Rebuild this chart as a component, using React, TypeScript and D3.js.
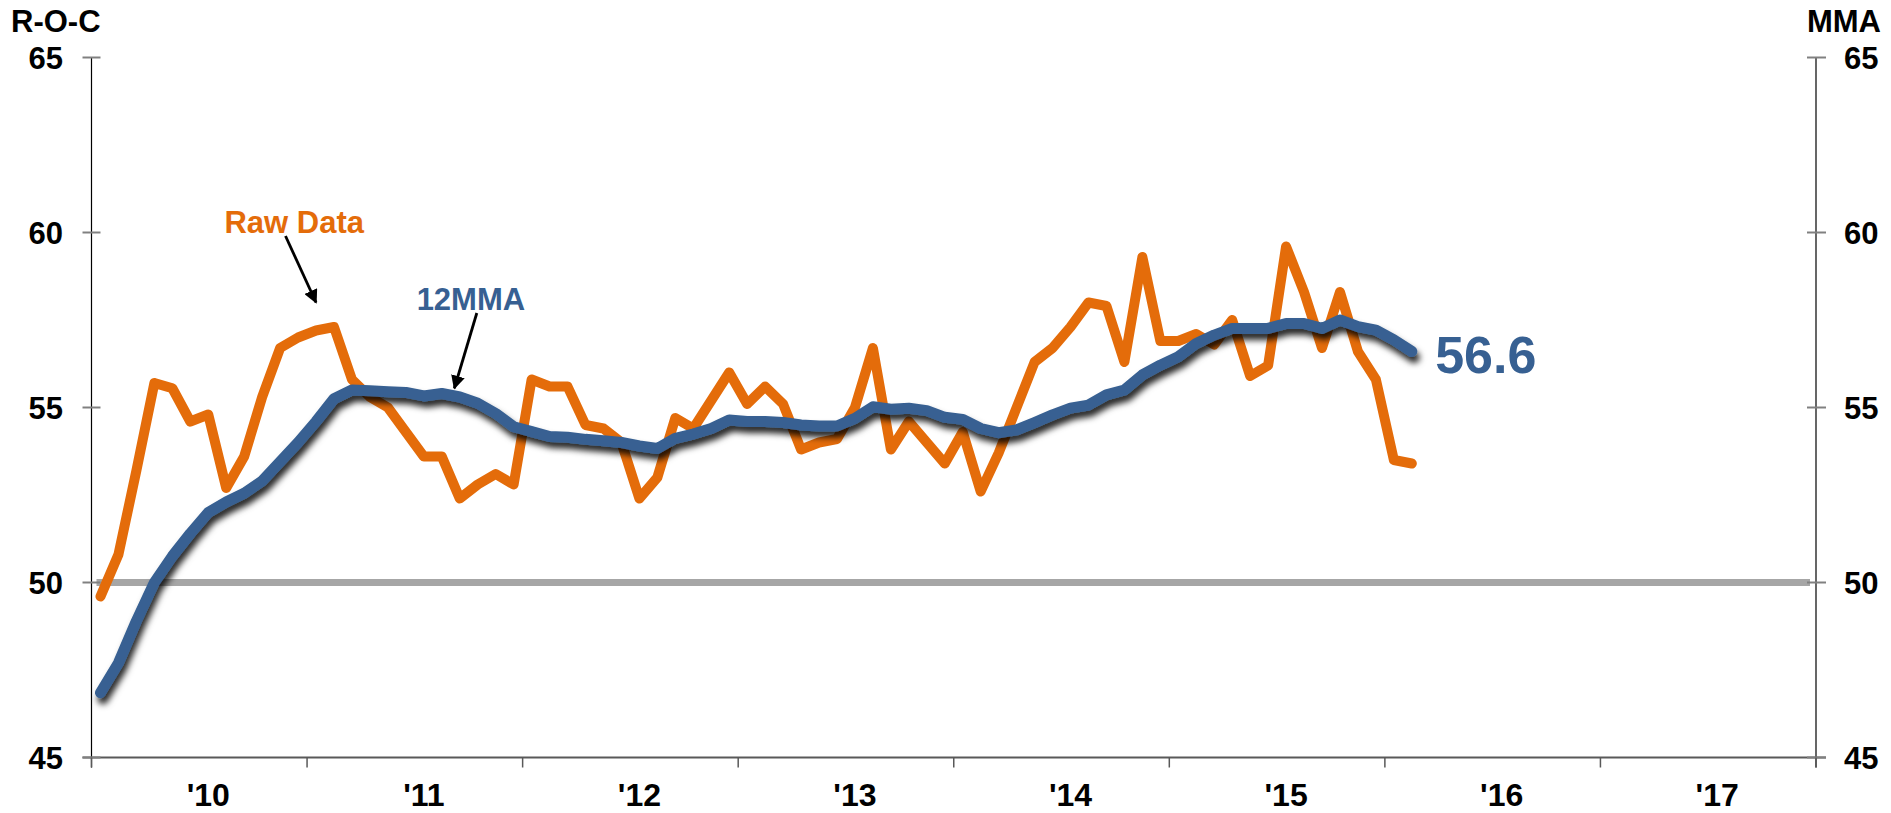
import * as d3 from "d3";

const WIDTH = 1891;
const HEIGHT = 813;
const PLOT = { left: 91.5, right: 1816, top: 57.5, bottom: 757.5 };
const FONT = "'Liberation Sans', Arial, sans-serif";
const ORANGE = "#E46C0A";
const BLUE = "#376092";

// monthly, Jan 2010 onwards
const YEAR_LABELS = ["'10", "'11", "'12", "'13", "'14", "'15", "'16", "'17"];
const Y_TICKS = [45, 50, 55, 60, 65];
const RAW_DATA = [
  49.6, 50.8, 53.2, 55.7, 55.55, 54.6, 54.8, 52.7, 53.6, 55.3, 56.7, 57.0,
  57.2, 57.3, 55.8, 55.3, 55.0, 54.3, 53.6, 53.6, 52.4, 52.8, 53.1, 52.8,
  55.8, 55.6, 55.6, 54.5, 54.4, 54.0, 52.4, 53.0, 54.7, 54.4, 55.2, 56.0,
  55.1, 55.6, 55.1, 53.8, 54.0, 54.1, 55.0, 56.7, 53.8, 54.6, 54.0, 53.4,
  54.3, 52.6, 53.7, 55.0, 56.3, 56.7, 57.3, 58.0, 57.9, 56.3, 59.3, 56.9,
  56.9, 57.1, 56.8, 57.5, 55.9, 56.2, 59.6, 58.3, 56.7, 58.3, 56.6, 55.8,
  53.5, 53.4,
];
const MMA_12 = [
  46.85, 47.7, 48.9, 50.0, 50.75, 51.4, 52.0, 52.3, 52.55, 52.9, 53.45, 54.0,
  54.6, 55.25, 55.5, 55.48, 55.45, 55.43, 55.33, 55.4, 55.3, 55.12, 54.83, 54.45,
  54.31, 54.17, 54.15, 54.09, 54.05, 54.0, 53.9, 53.83, 54.12, 54.24, 54.4, 54.64,
  54.6, 54.6, 54.57, 54.5, 54.47, 54.47, 54.69, 55.02, 54.95, 54.98, 54.91, 54.72,
  54.66, 54.4, 54.28, 54.36, 54.57, 54.79, 54.98, 55.07, 55.36, 55.5, 55.93, 56.21,
  56.45, 56.83, 57.07, 57.26, 57.26, 57.26, 57.4, 57.4, 57.26, 57.5, 57.31, 57.21,
  56.93, 56.6,
];
const LAST_LABEL = "56.6";
const THRESHOLD = 50;

export default function App() {
  const x = d3
    .scaleLinear()
    .domain([0, YEAR_LABELS.length * 12])
    .range([PLOT.left, PLOT.right]);
  const y = d3.scaleLinear().domain([45, 65]).range([PLOT.bottom, PLOT.top]);

  const line = d3
    .line<number>()
    .x((_, i) => x(i + 0.5))
    .y((d) => y(d));

  const yearBounds = d3.range(YEAR_LABELS.length + 1).map((k) => x(k * 12));

  return (
    <svg
      width={WIDTH}
      height={HEIGHT}
      style={{ position: "absolute", left: 0, top: 0, background: "#fff" }}
      fontFamily={FONT}
      fontWeight="bold"
    >
      <defs>
        <filter id="shadow" x="-10%" y="-30%" width="130%" height="170%">
          <feDropShadow dx="2.5" dy="6" stdDeviation="3" floodColor="#000" floodOpacity="0.85" />
        </filter>
        <marker
          id="arrow"
          viewBox="0 0 10 10"
          refX="9"
          refY="5"
          markerWidth="5"
          markerHeight="5"
          markerUnits="strokeWidth"
          orient="auto"
        >
          <path d="M0,0 L10,5 L0,10 Z" fill="#000" />
        </marker>
      </defs>

      {/* titles */}
      <text x={11} y={32} fontSize={31} fill="#000">R-O-C</text>
      <text x={1881} y={32} fontSize={31} fill="#000" textAnchor="end">MMA</text>

      {/* 50 line */}
      <line
        x1={PLOT.left + 5}
        x2={PLOT.right - 6}
        y1={y(THRESHOLD)}
        y2={y(THRESHOLD)}
        stroke="#A6A6A6"
        strokeWidth={7}
      />

      {/* axes */}
      <line x1={PLOT.left} x2={PLOT.left} y1={PLOT.top} y2={PLOT.bottom + 10} stroke="#000" strokeWidth={1.2} />
      <line x1={PLOT.right} x2={PLOT.right} y1={PLOT.top} y2={PLOT.bottom + 10} stroke="#000" strokeWidth={1.2} />
      <line x1={PLOT.left - 9} x2={PLOT.right + 10} y1={PLOT.bottom} y2={PLOT.bottom} stroke="#595959" strokeWidth={2} />
      {Y_TICKS.map((t) => (
        <g key={t}>
          <line x1={PLOT.left - 9} x2={PLOT.left + 9} y1={y(t)} y2={y(t)} stroke="#808080" strokeWidth={2} />
          <line x1={PLOT.right - 9} x2={PLOT.right + 10} y1={y(t)} y2={y(t)} stroke="#808080" strokeWidth={2} />
          <text x={63} y={y(t) + 11.3} fontSize={31} textAnchor="end" fill="#000">{t}</text>
          <text x={1844} y={y(t) + 11.3} fontSize={31} fill="#000">{t}</text>
        </g>
      ))}
      {yearBounds.map((bx, k) => (
        <line key={k} x1={bx} x2={bx} y1={PLOT.bottom} y2={PLOT.bottom + 10} stroke="#595959" strokeWidth={1.5} />
      ))}
      {YEAR_LABELS.map((lab, k) => (
        <text key={lab} x={x(k * 12 + 6) + 9} y={806} fontSize={32} textAnchor="middle" fill="#000">
          {lab}
        </text>
      ))}

      {/* series */}
      <path
        d={line(RAW_DATA) ?? ""}
        fill="none"
        stroke={ORANGE}
        strokeWidth={10}
        strokeLinejoin="round"
        strokeLinecap="round"
      />
      <path
        d={line(MMA_12) ?? ""}
        fill="none"
        stroke={BLUE}
        strokeWidth={11}
        strokeLinejoin="round"
        strokeLinecap="round"
        filter="url(#shadow)"
      />

      {/* annotations */}
      <text x={x(7.4)} y={y(60)} fontSize={31} fill={ORANGE}>Raw Data</text>
      <line
        x1={x(10.8)}
        y1={y(59.9)}
        x2={x(12.5)}
        y2={y(58.0)}
        stroke="#000"
        strokeWidth={2.8}
        markerEnd="url(#arrow)"
      />
      <text x={x(18.1)} y={y(57.8)} fontSize={31} fill={BLUE}>12MMA</text>
      <line
        x1={x(21.45)}
        y1={y(57.7)}
        x2={x(20.2)}
        y2={y(55.55)}
        stroke="#000"
        strokeWidth={2.8}
        markerEnd="url(#arrow)"
      />
      <text x={x(74.8)} y={y(56)} fontSize={52} fill={BLUE}>{LAST_LABEL}</text>
    </svg>
  );
}
